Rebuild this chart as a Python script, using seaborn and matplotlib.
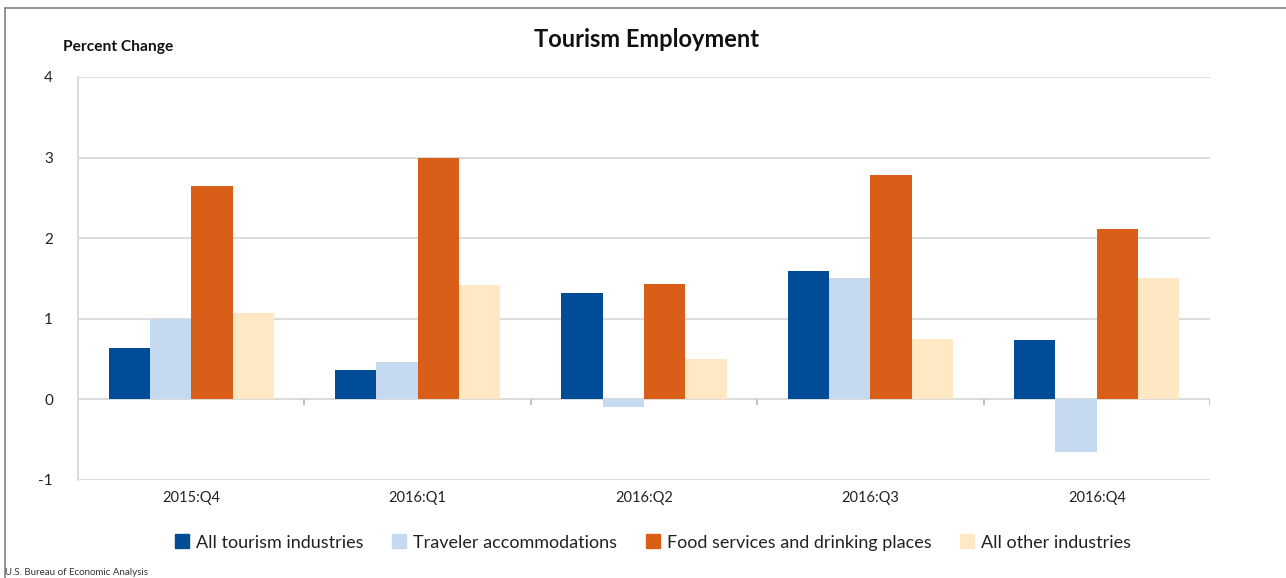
import matplotlib
matplotlib.use("Agg")
import matplotlib.pyplot as plt
from matplotlib.lines import Line2D
import numpy as np
import pandas as pd
import seaborn as sns

quarters = ["2015:Q4", "2016:Q1", "2016:Q2", "2016:Q3", "2016:Q4"]
series = ["All tourism industries", "Traveler accommodations",
          "Food services and drinking places", "All other industries"]
all_tourism = [0.64, 0.36, 1.32, 1.59, 0.74]
traveler = [1.00, 0.46, -0.10, 1.50, -0.65]
food = [2.65, 3.00, 1.43, 2.78, 2.11]
other = [1.07, 1.42, 0.50, 0.75, 1.50]
colors = ["#004C97", "#C5D9F1", "#D95F18", "#FFE8C3"]

df = pd.DataFrame({"quarter": quarters * 4,
                   "series": np.repeat(series, len(quarters)),
                   "value": all_tourism + traveler + food + other})

sns.set_style("white")
plt.rcParams["font.family"] = ["Lato", "DejaVu Sans"]

fig = plt.figure(figsize=(12.86, 5.78), dpi=100)
ax = fig.add_axes([0.0607, 0.1696, 0.8802, 0.6972])

sns.barplot(data=df, x="quarter", y="value", hue="series", palette=colors,
            width=0.73, gap=0, saturation=1, linewidth=0, ax=ax, legend=False)

ax.set_ylim(-1, 4)
ax.set_xlim(-0.5, len(quarters) - 0.5)
ax.set_yticks(range(-1, 5))
ax.set_yticklabels([str(v) for v in range(-1, 5)], fontsize=11, color="#222222")
ax.tick_params(axis="y", length=0, pad=18)
ax.tick_params(axis="x", length=0, pad=8, labelsize=10.5, labelcolor="#222222")
ax.set_xlabel("")
ax.set_ylabel("")
for v in range(-1, 5):
    ax.axhline(v, color="#D9D9D9", lw=1.3, zorder=0)
ax.vlines(np.arange(len(quarters)) + 0.5, 0, -0.07, color="#BFBFBF", lw=1.3, zorder=0)
for s in ["top", "right", "bottom"]:
    ax.spines[s].set_visible(False)
ax.spines["left"].set_color("#D9D9D9")
ax.spines["left"].set_linewidth(1.3)

fig.text(0.503, 0.932, "Tourism Employment", ha="center", va="center",
         fontsize=17, fontweight="bold", color="#111111")
fig.text(0.049, 0.918, "Percent Change", ha="left", va="center",
         fontsize=11.2, fontweight="bold", color="#111111")
fig.text(0.004, 0.01, "U.S. Bureau of Economic Analysis", ha="left", va="center",
         fontsize=7, color="#333333")

handles = [Line2D([], [], marker="s", ls="", markersize=10, color=c) for c in colors]
fig.legend(handles, series, loc="center", bbox_to_anchor=(0.507, 0.061), ncol=4,
           frameon=False, fontsize=13, handletextpad=0.3, columnspacing=1.45,
           handlelength=1.0, labelcolor="#222222")

# chart frame
fig.add_artist(Line2D([0.004, 0.004], [0, 0.986], transform=fig.transFigure,
                      color="#808080", lw=1.2))
fig.add_artist(Line2D([0.004, 1], [0.986, 0.986], transform=fig.transFigure,
                      color="#808080", lw=1.2))

fig.savefig("out.png", dpi=100)
